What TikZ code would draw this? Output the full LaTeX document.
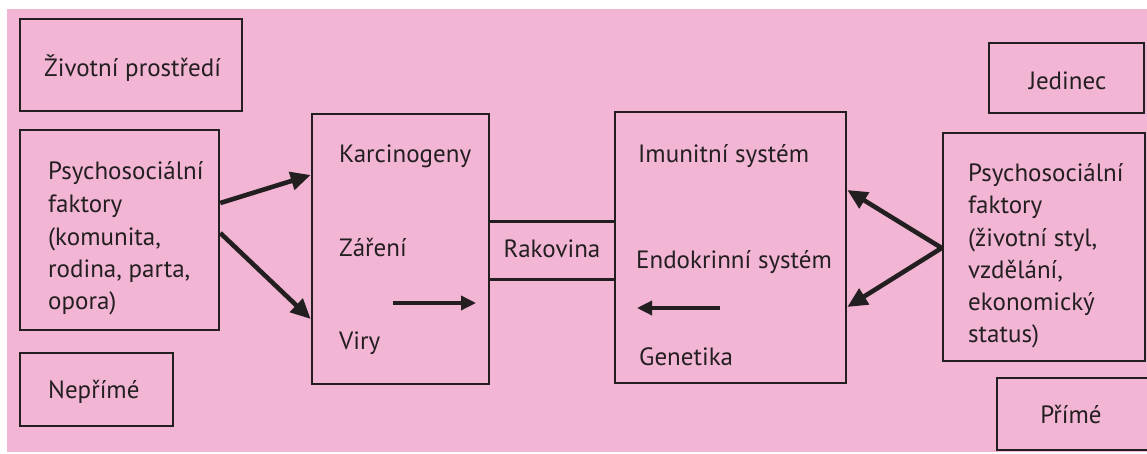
\documentclass[tikz,border=0pt]{standalone}
\usepackage{fontspec}
\setmainfont{PT Sans}
\usetikzlibrary{arrows.meta,calc}
\definecolor{bgpink}{RGB}{242,181,212}
\definecolor{ink}{RGB}{35,31,32}
\begin{document}
\begin{tikzpicture}[x=1pt,y=-1pt,
  box/.style={draw=ink,line width=2.6pt,inner sep=0pt,minimum width=#1},
  lbl/.style={text=ink,inner sep=0pt,anchor=base west,font=\fontsize{25}{32.4}\selectfont},
  clbl/.style={text=ink,inner sep=0pt,anchor=base,font=\fontsize{25}{32.4}\selectfont},
  bigarrow/.style={draw=ink,line width=4.6pt,-{Triangle[length=20pt,width=18pt]}},
  smallarrow/.style={draw=ink,line width=3.4pt,-{Triangle[length=15pt,width=14pt]}}]
\useasboundingbox (0,0) rectangle (1147,454);
\fill[white] (0,0) rectangle (1147,454);
\fill[bgpink] (7,9) rectangle (1147,452);
% boxes
\node[box=222pt,minimum height=92pt] (zp) at (131,65) {};
\node[box=199pt,minimum height=200pt] (psl) at (119.5,230) {};
\node[box=153pt,minimum height=73pt] (nep) at (96.5,389.5) {};
\node[box=177pt,minimum height=270pt] (mid1) at (400.5,249) {};
\node[box=231pt,minimum height=271pt] (mid2) at (730.5,247.5) {};
\node[inner sep=0pt,minimum width=126pt,minimum height=57pt] (rak) at (552,250.5) {};
\draw[draw=ink,line width=2.6pt] (rak.north west) -- (rak.north east) (rak.south west) -- (rak.south east);
\node[box=155pt,minimum height=70pt] (jed) at (1066.5,78) {};
\node[box=202pt,minimum height=228pt] (psr) at (1044,247) {};
\node[box=153pt,minimum height=72pt] (pri) at (1073.5,414) {};
% texts
\node[lbl] (tzp) at (44,77) {Životní prostředí};
\node[lbl] (tpsl) at (48,180) {Psychosociální};
\node[lbl] (tpsl2) at (48,212.5) {faktory};
\node[lbl] (tpsl3) at (48,245) {(komunita,};
\node[lbl] (tpsl4) at (48,277.5) {rodina, parta,};
\node[lbl] (tpsl5) at (48,309) {opora)};
\node[lbl] (tnep) at (48,398) {Nepřímé};
\node[lbl] (tkar) at (339,163) {Karcinogeny};
\node[lbl] (tzar) at (339,256) {Záření};
\node[lbl] (tvir) at (339,349) {Viry};
\node[clbl] (trak) at (552,258) {Rakovina};
\node[lbl] (timu) at (638,163) {Imunitní systém};
\node[lbl] (tend) at (636,268) {Endokrinní systém};
\node[lbl] (tgen) at (639,365) {Genetika};
\node[clbl] (tjed) at (1067.5,90) {Jedinec};
\node[lbl] (tpsr) at (968,182) {Psychosociální};
\node[lbl] (tpsr2) at (968,214) {faktory};
\node[lbl] (tpsr3) at (968,246) {(životní styl,};
\node[lbl] (tpsr4) at (968,278) {vzdělání,};
\node[lbl] (tpsr5) at (968,310) {ekonomický};
\node[lbl] (tpsr6) at (968,342) {status)};
\node[clbl] (tpri) at (1071,423) {Přímé};
% connectors
\draw[bigarrow] ([yshift=27pt]psl.east) -- ([yshift=74pt]mid1.west);
\draw[bigarrow] ([yshift=-3pt]psl.east) -- ([yshift=-70pt]mid1.west);
\draw[bigarrow] ([yshift=-1pt]psr.west) -- ([yshift=57.5pt]mid2.east);
\draw[bigarrow] ([yshift=-1pt]psr.west) -- ([yshift=-59.5pt]mid2.east);
\draw[smallarrow] ([xshift=-7.5pt,yshift=-54pt]mid1.center) -- ([xshift=75.5pt,yshift=-54pt]mid1.center);
\draw[smallarrow] ([xshift=-10.5pt,yshift=-60.5pt]mid2.center) -- ([xshift=-93.5pt,yshift=-60.5pt]mid2.center);
\end{tikzpicture}
\end{document}
